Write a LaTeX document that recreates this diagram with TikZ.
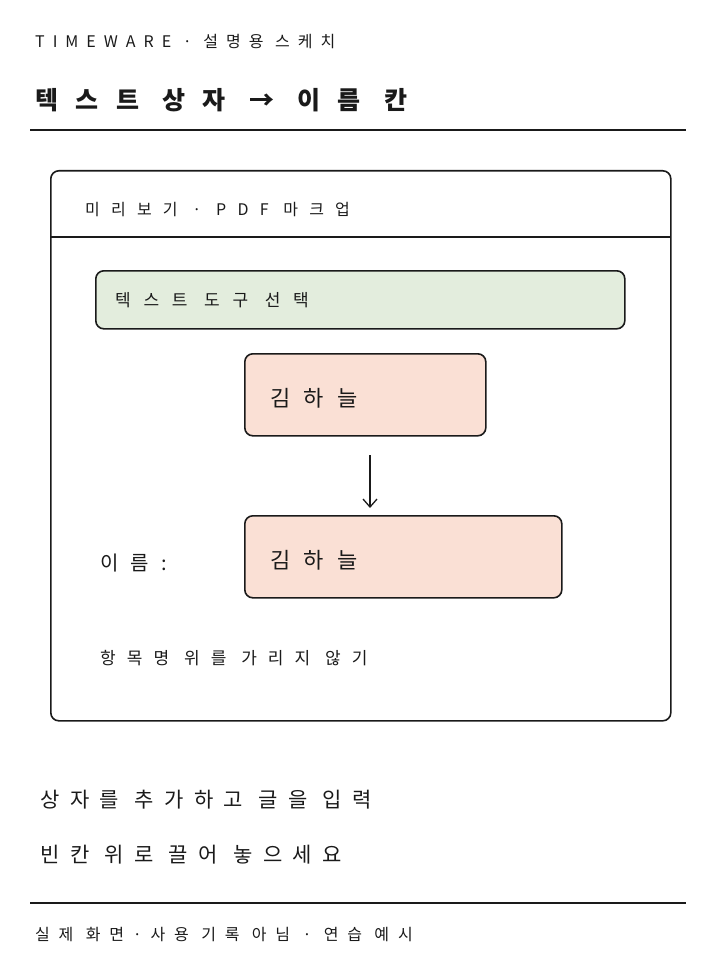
\documentclass[tikz,border=0pt]{standalone}
\usepackage{fontspec}
\usetikzlibrary{arrows.meta}
\setmainfont{Noto Sans CJK KR}
\definecolor{greenf}{HTML}{E3EDDD}
\definecolor{pinkf}{HTML}{FAE0D5}
\definecolor{ink}{HTML}{1A1A1A}
\newcommand{\ls}[1]{\addfontfeature{LetterSpace=#1}}
\begin{document}
\begin{tikzpicture}[x=1pt,y=-1pt,
  lbl/.style={anchor=west,inner sep=0pt,text=ink},
  box/.style={draw=ink,line width=1.6pt,rounded corners=8pt},
  rule/.style={draw=ink,line width=1.2pt}]
\useasboundingbox (0,0) rectangle (720,960);
\node[lbl,font=\fontsize{16}{18}\selectfont\ls{50}] (hdr) at (35,42) {TIMEWARE · 설명용 스케치};
\node[lbl,font=\fontsize{25}{28}\selectfont\bfseries\ls{70}] (title) at (35,100) {텍스트 상자 → 이름 칸};
\draw[rule] (30,130) -- (686,130);
\node[box,minimum width=620,minimum height=550,anchor=north west] (frame) at (50,170) {};
\draw[rule] (50,237) -- (670,237);
\node[lbl,font=\fontsize{16}{18}\selectfont\ls{70}] (prev) at (85,210) {미리보기 · PDF 마크업};
\node[box,fill=greenf,minimum width=529,minimum height=58,anchor=north west] (tool) at (95,270) {};
\node[lbl,font=\fontsize{17}{20}\selectfont\ls{75}] (tooltxt) at (115,300) {텍스트 도구 선택};
\node[box,fill=pinkf,minimum width=241,minimum height=82,anchor=north west] (n1) at (244,353) {};
\node[lbl,font=\fontsize{22}{26}\selectfont\ls{60}] (n1t) at (270,398) {김하늘};
\node[box,fill=pinkf,minimum width=317,minimum height=82,anchor=north west] (n2) at (244,515) {};
\node[lbl,font=\fontsize{22}{26}\selectfont\ls{60}] (n2t) at (270,560) {김하늘};
\coordinate (a1) at (370,455);
\coordinate (a2) at (370,508);
\draw[ink,line width=1.3pt,-{Straight Barb[length=8pt,width=14pt]}] (a1) -- (a2);
\node[lbl,font=\fontsize{20}{24}\selectfont\ls{60}] (name) at (100,563) {이름:};
\node[lbl,font=\fontsize{17}{20}\selectfont\ls{65}] (note) at (100,658) {항목명 위를 가리지 않기};
\node[lbl,font=\fontsize{21}{24}\selectfont\ls{50}] (b1) at (40,800) {상자를 추가하고 글을 입력};
\node[lbl,font=\fontsize{21}{24}\selectfont\ls{50}] (b2) at (40,855) {빈칸 위로 끌어 놓으세요};
\draw[rule] (30,903) -- (686,903);
\node[lbl,font=\fontsize{16}{18}\selectfont\ls{55}] (foot) at (35,935) {실제 화면·사용 기록 아님 · 연습 예시};
\end{tikzpicture}
\end{document}
